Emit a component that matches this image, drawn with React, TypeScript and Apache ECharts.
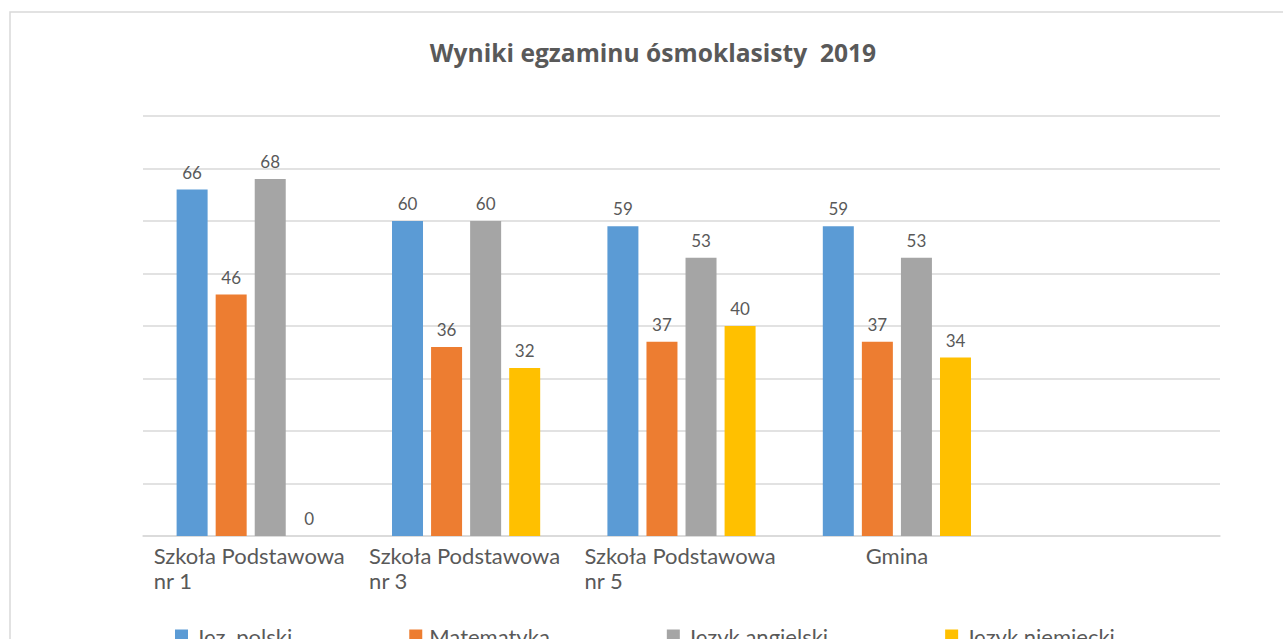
import React, { useEffect, useRef } from "react";
import * as echarts from "echarts";

const categories = ["Szkoła Podstawowa\nnr 1", "Szkoła Podstawowa\nnr 3", "Szkoła Podstawowa\nnr 5", "Gmina", ""];
const seriesNames = ["Jęz. polski", "Matematyka", "Język angielski", "Język niemiecki"];
const jezPolski = [66, 60, 59, 59, null];
const matematyka = [46, 36, 37, 37, null];
const jezykAngielski = [68, 60, 53, 53, null];
const jezykNiemiecki = [0, 32, 40, 34, null];
const colors = ["#5b9bd5", "#ed7d31", "#a5a5a5", "#ffc000"];
const yTicks = { min: 0, max: 80, interval: 10 };

const FONT = "Lato";
const TXT = "#595959";

export default function App() {
  const ref = useRef<HTMLDivElement>(null);
  useEffect(() => {
    document.body.style.margin = "0";
    const chart = echarts.init(ref.current!, null, { renderer: "svg" });
    const values = [jezPolski, matematyka, jezykAngielski, jezykNiemiecki];
    chart.setOption({
      animation: false,
      backgroundColor: "#ffffff",
      textStyle: { fontFamily: FONT },
      title: {
        text: "Wyniki egzaminu ósmoklasisty  2019",
        left: 648,
        top: 35,
        textAlign: "center",
        textStyle: { fontFamily: "Open Sans", fontSize: 24.6, fontWeight: "bold", color: TXT },
      },
      graphic: [
        {
          type: "rect",
          shape: { x: 10, y: 12, width: 1290, height: 650 },
          style: { fill: "none", stroke: "#d9d9d9", lineWidth: 1.5 },
          silent: true,
        },
      ],
      legend: {
        data: seriesNames,
        left: 170,
        top: 620,
        icon: "rect",
        itemWidth: 13,
        itemHeight: 13,
        itemGap: 117,
        textStyle: { fontFamily: FONT, fontSize: 22, color: TXT, padding: [0, 0, 0, 2] },
      },
      grid: { left: 143, right: 63, top: 116, bottom: 103, containLabel: false },
      xAxis: {
        type: "category",
        data: categories,
        axisLine: { lineStyle: { color: "#d9d9d9", width: 1.5 } },
        axisTick: { show: false },
        axisLabel: {
          interval: 0,
          margin: 7,
          color: TXT,
          fontFamily: FONT,
          fontSize: 22,
          lineHeight: 25,
          formatter: (v: string) =>
            v.indexOf("\n") >= 0
              ? v.split("\n").map((l) => "{b|" + l + "}").join("\n")
              : v,
          rich: {
            b: { width: 194, align: "left", color: TXT, fontFamily: FONT, fontSize: 22, lineHeight: 25 },
          },
        },
      },
      yAxis: {
        type: "value",
        min: yTicks.min,
        max: yTicks.max,
        interval: yTicks.interval,
        axisLabel: { show: false },
        axisLine: { show: false },
        axisTick: { show: false },
        splitLine: { lineStyle: { color: "#d9d9d9", width: 1.5 } },
      },
      series: values.map((d, i) => ({
        name: seriesNames[i],
        type: "bar",
        data: d,
        barWidth: 31,
        barGap: "26%",
        itemStyle: { color: colors[i] },
        label: {
          show: true,
          position: "top",
          distance: 9,
          color: TXT,
          fontFamily: FONT,
          fontSize: 17,
        },
      })),
    });
    return () => chart.dispose();
  }, []);
  return <div ref={ref} style={{ width: 1283, height: 639 }} />;
}
